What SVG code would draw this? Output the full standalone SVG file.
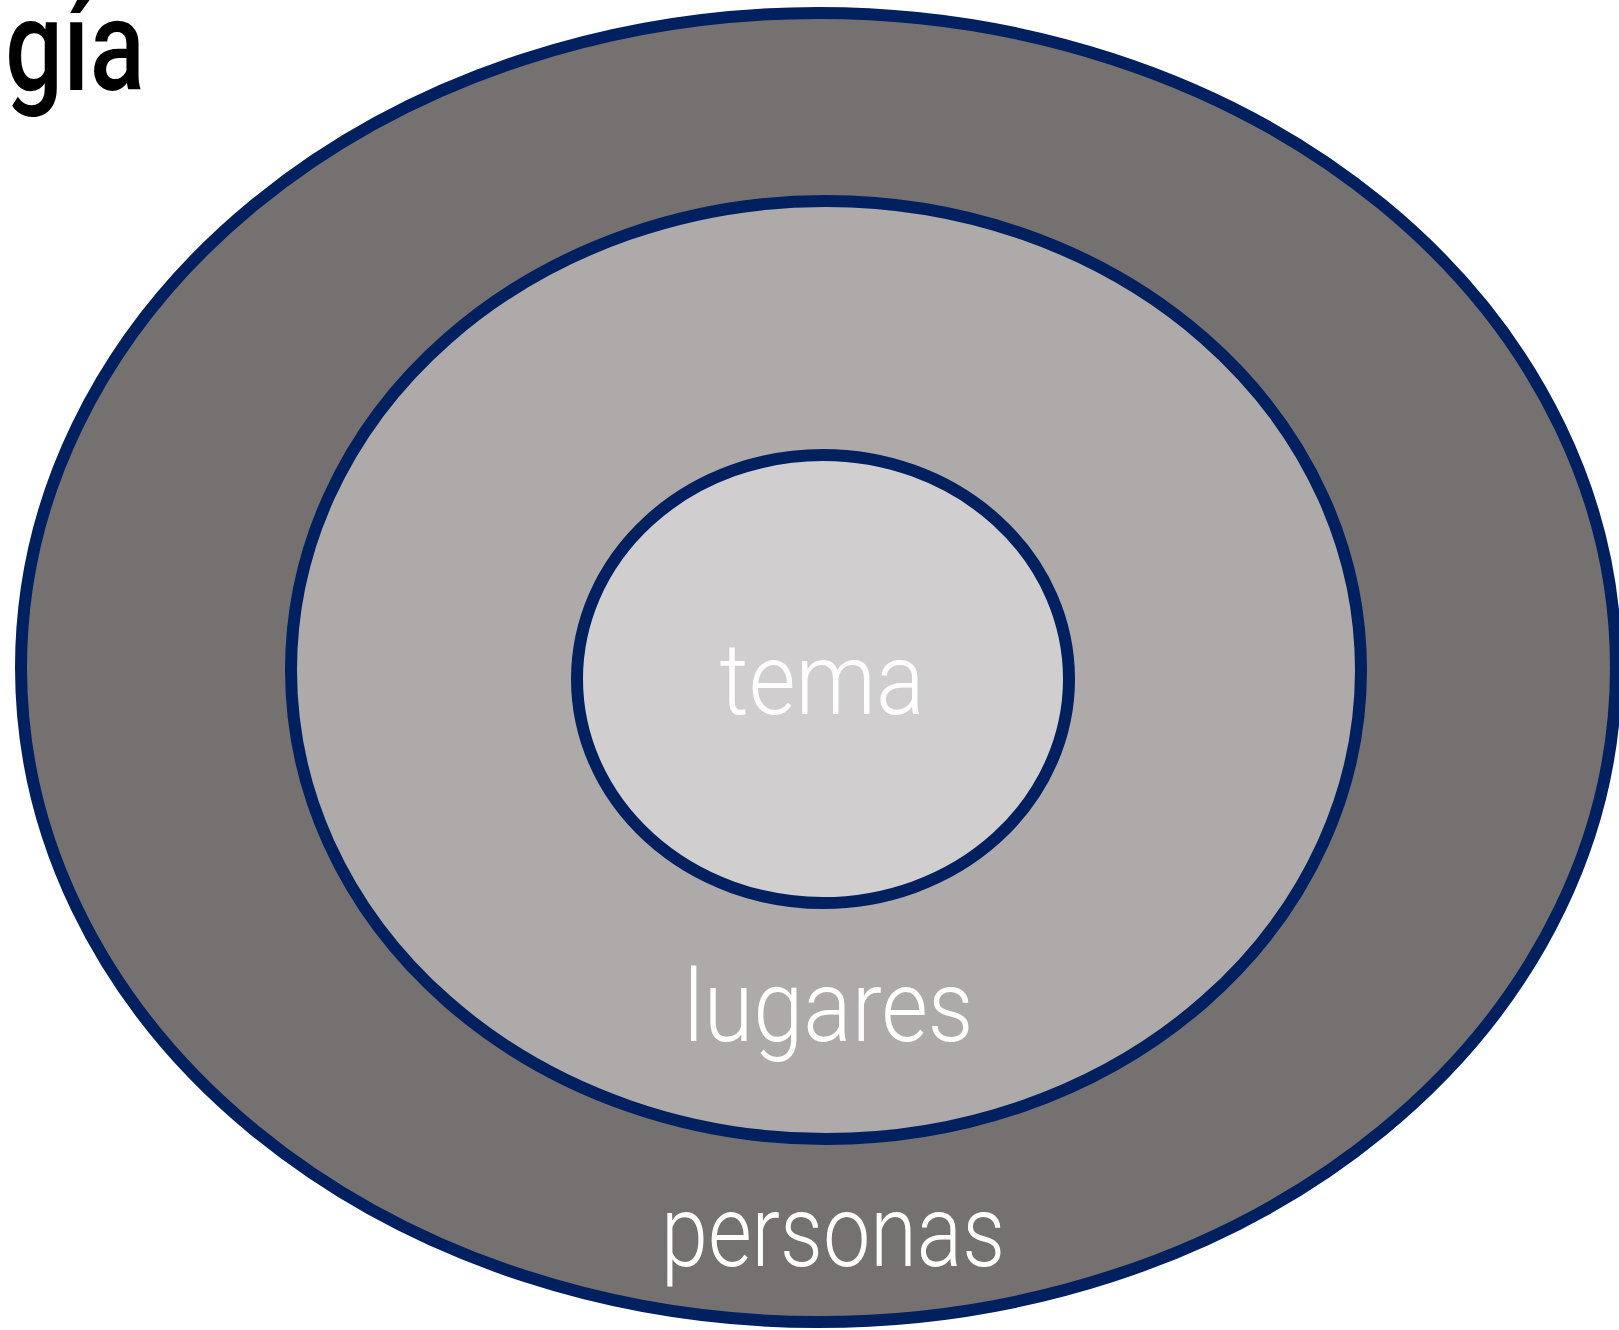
<svg xmlns="http://www.w3.org/2000/svg" width="1619" height="1330" viewBox="0 0 1619 1330">
<style>
.ring{stroke:#002060;stroke-width:12}
.lbl{font-family:"Roboto","Inter","Liberation Sans",sans-serif;font-weight:300;fill:#ffffff;text-anchor:middle}
.ttl{font-family:"Roboto","Inter","Liberation Sans",sans-serif;font-weight:500;fill:#000000}
</style>
<rect width="1619" height="1330" fill="#ffffff"/>
<g id="personas">
<ellipse class="ring" cx="818.5" cy="667.5" rx="797.5" ry="654.5" fill="#767171"/>
<text class="lbl" x="833" y="1266" font-size="100" textLength="344" lengthAdjust="spacingAndGlyphs">personas</text>
</g>
<g id="lugares">
<ellipse class="ring" cx="826" cy="670" rx="535" ry="469" fill="#AEAAAA"/>
<text class="lbl" x="828.5" y="1041" font-size="100" textLength="290" lengthAdjust="spacingAndGlyphs">lugares</text>
</g>
<g id="tema">
<ellipse class="ring" cx="823" cy="679" rx="246" ry="224" fill="#D0CECE"/>
<text class="lbl" x="822" y="714" font-size="100" textLength="205" lengthAdjust="spacingAndGlyphs">tema</text>
</g>
<g id="connectors"/>
<text class="ttl" x="5" y="90" font-size="128" textLength="140" lengthAdjust="spacingAndGlyphs">gía</text>
</svg>
